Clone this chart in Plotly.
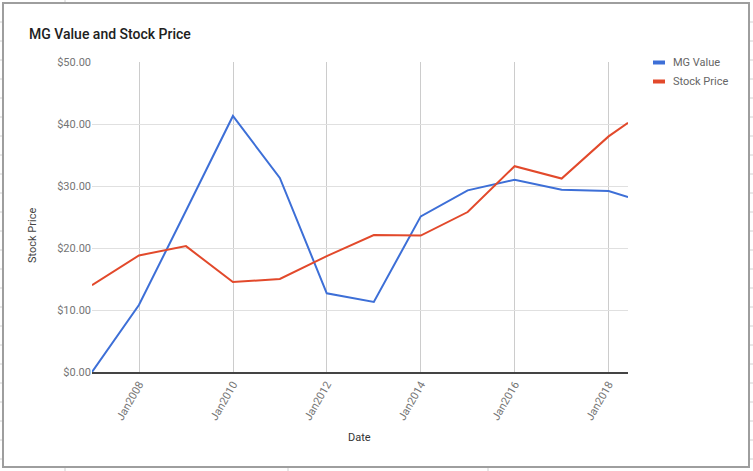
import plotly.graph_objects as go

dates = ["2006-12-31", "2007-12-31", "2008-12-31", "2009-12-31", "2010-12-31",
         "2011-12-31", "2012-12-31", "2013-12-31", "2014-12-31", "2015-12-31",
         "2016-12-31", "2017-12-31", "2018-05-31"]
mg_value = [0.0, 10.8, 26.0, 41.3, 31.3, 12.7, 11.3, 25.1, 29.3, 31.0, 29.4, 29.2, 28.2]
stock_price = [14.0, 18.8, 20.3, 14.5, 15.0, 18.7, 22.1, 22.0, 25.8, 33.2, 31.2, 38.0, 40.2]
y_ticks = [0, 10, 20, 30, 40, 50]
y_tick_labels = ["$0.00", "$10.00", "$20.00", "$30.00", "$40.00", "$50.00"]

BLUE = "#3d6fd7"
RED = "#e2492b"
W, H = 753, 471
L, R, T, B = 92, 628, 62, 372


def px_x(x):
    return (x - L) / (R - L)


def px_y(y):
    return (B - y) / (B - T)


fig = go.Figure()
fig.add_trace(go.Scatter(x=dates, y=mg_value, mode="lines", name="MG Value",
                         line=dict(color=BLUE, width=2)))
fig.add_trace(go.Scatter(x=dates, y=stock_price, mode="lines", name="Stock Price",
                         line=dict(color=RED, width=2)))

shapes = []
# outer chart frame
shapes.append(dict(type="rect", xref="paper", yref="paper",
                   x0=px_x(3), x1=px_x(749), y0=px_y(3), y1=px_y(467),
                   line=dict(color="#9e9e9e", width=2), layer="below"))
# spreadsheet grid remnants outside the frame
for yy in range(22, 467, 19):
    shapes.append(dict(type="line", xref="paper", yref="paper",
                       x0=px_x(0), x1=px_x(2), y0=px_y(yy), y1=px_y(yy),
                       line=dict(color="#d0d0d0", width=1)))
    shapes.append(dict(type="line", xref="paper", yref="paper",
                       x0=px_x(750), x1=px_x(753), y0=px_y(yy), y1=px_y(yy),
                       line=dict(color="#d0d0d0", width=1)))
for xx in [65, 288, 488]:
    shapes.append(dict(type="line", xref="paper", yref="paper",
                       x0=px_x(xx), x1=px_x(xx), y0=px_y(468), y1=px_y(471),
                       line=dict(color="#d0d0d0", width=1)))
shapes.append(dict(type="line", xref="paper", yref="paper",
                   x0=px_x(65), x1=px_x(65), y0=px_y(0), y1=px_y(2),
                   line=dict(color="#d0d0d0", width=1)))
# legend swatches
for i, c in enumerate([BLUE, RED]):
    cy = 62.5 + i * 19
    shapes.append(dict(type="rect", xref="paper", yref="paper",
                       x0=px_x(653), x1=px_x(665), y0=px_y(cy - 2), y1=px_y(cy + 2),
                       fillcolor=c, line=dict(width=0)))

annotations = [
    dict(text="MG Value and Stock Price", xref="paper", yref="paper",
         x=px_x(27), y=px_y(34), xanchor="left", yanchor="middle", showarrow=False,
         font=dict(family="Roboto", size=14, color="#212121", weight=500)),
    dict(text="Stock Price", xref="paper", yref="paper", x=px_x(32), y=px_y(236),
         textangle=-90, showarrow=False, xanchor="center", yanchor="middle",
         font=dict(family="Roboto", size=11, color="#444444")),
    dict(text="Date", xref="paper", yref="paper", x=px_x(359), y=px_y(437),
         showarrow=False, xanchor="center", yanchor="middle",
         font=dict(family="Roboto", size=11, color="#333333")),
]
for i, name in enumerate(["MG Value", "Stock Price"]):
    annotations.append(dict(text=name, xref="paper", yref="paper",
                            x=px_x(671), y=px_y(62.5 + i * 19), xanchor="left",
                            yanchor="middle", showarrow=False,
                            font=dict(family="Roboto", size=11, color="#666666")))

fig.update_layout(
    width=W, height=H, autosize=False,
    margin=dict(l=L, r=W - R, t=T, b=H - B),
    paper_bgcolor="white", plot_bgcolor="white",
    showlegend=False,
    font=dict(family="Roboto", size=11, color="#757575"),
    shapes=shapes, annotations=annotations,
    xaxis=dict(type="date", range=[dates[0], dates[-1]],
               tick0="2008-01-01", dtick="M24", tickformat="%b%Y",
               tickangle=-60, showgrid=True, gridcolor="#cccccc", gridwidth=1,
               showline=True, linecolor="#444444", linewidth=1.5,
               zeroline=False, ticks="", automargin=False,
               tickfont=dict(family="Roboto", size=11, color="#757575")),
    yaxis=dict(range=[0, 50], tickvals=y_ticks, ticktext=y_tick_labels,
               showgrid=True, gridcolor="#e0e0e0", gridwidth=1,
               zeroline=False, showline=False, ticks="", automargin=False,
               tickfont=dict(family="Roboto", size=11, color="#757575")),
)

fig.write_html("out.html", config={"displayModeBar": False},
               post_script="document.body.style.margin='0';document.body.style.padding='0';")
